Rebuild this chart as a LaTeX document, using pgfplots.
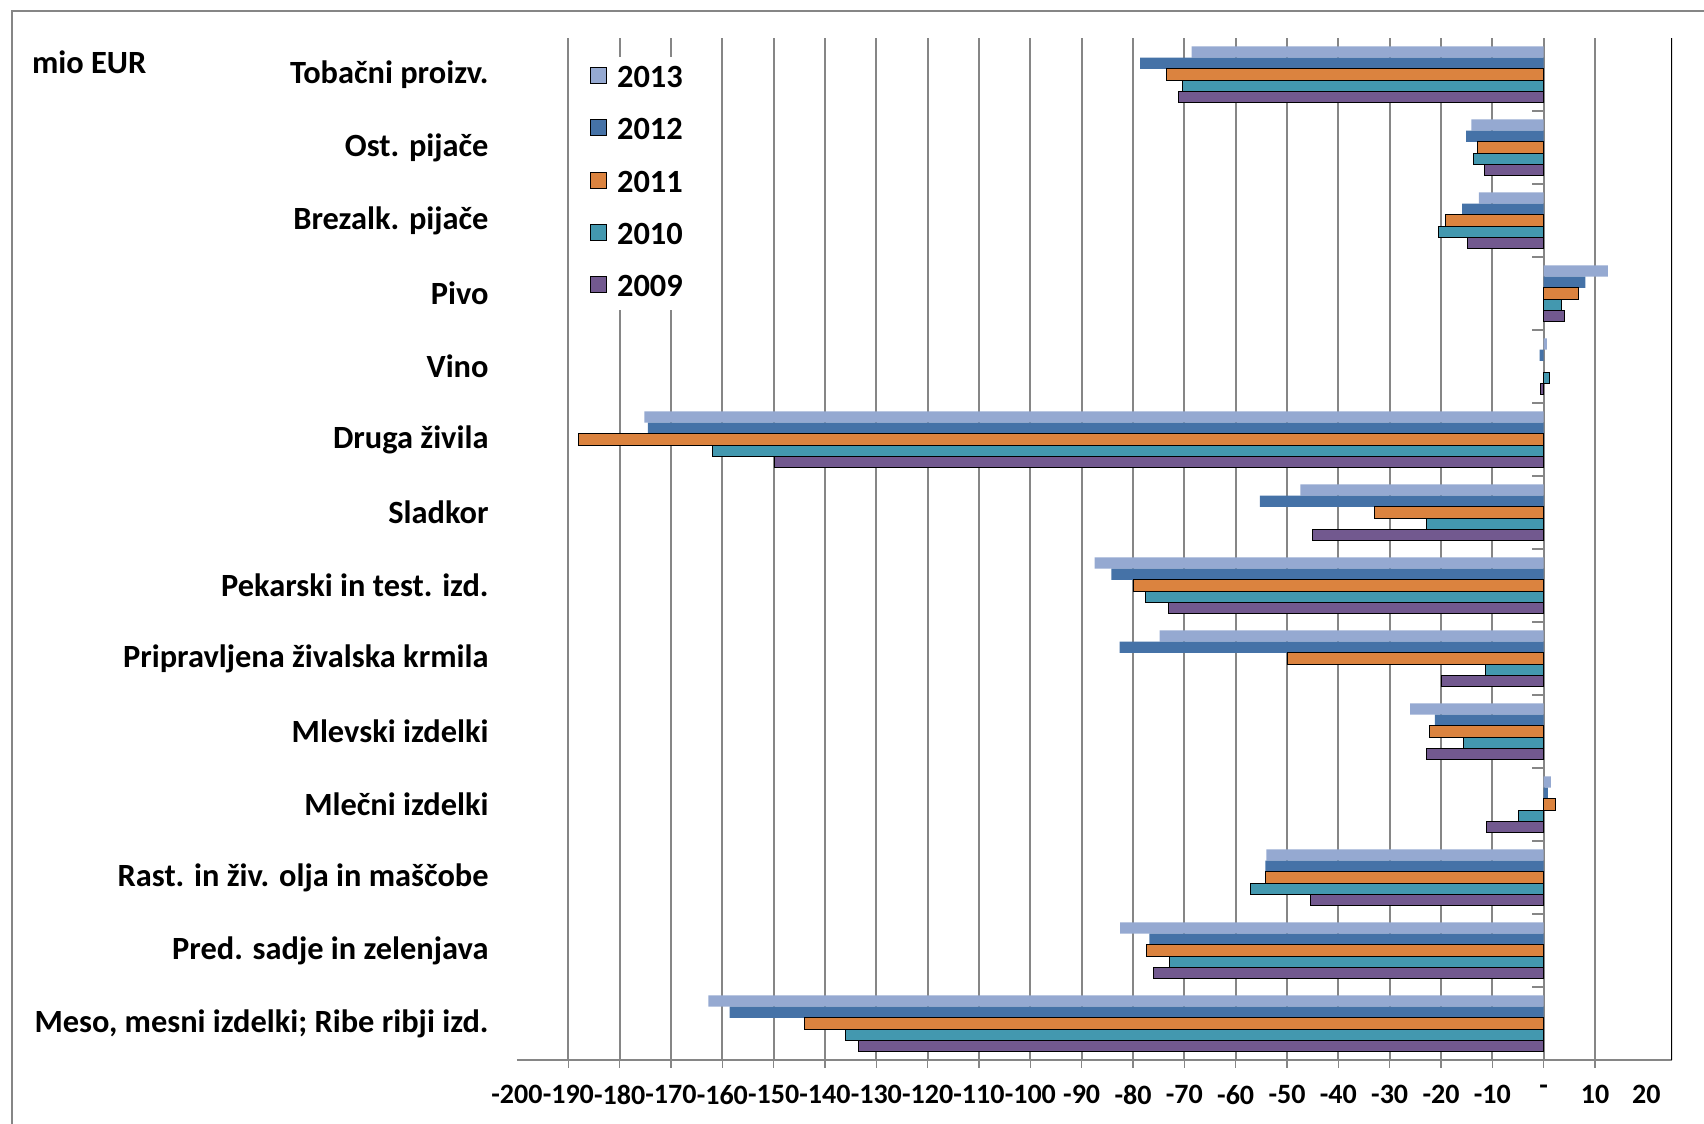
\documentclass[border=0pt]{standalone}
\usepackage{fontspec}
\setmainfont{Carlito}
\usepackage{pgfplots}
\pgfplotsset{compat=1.18}

\definecolor{c13}{RGB}{149,169,209}
\definecolor{c12}{RGB}{69,114,167}
\definecolor{c11}{RGB}{219,131,63}
\definecolor{c10}{RGB}{67,152,175}
\definecolor{c09}{RGB}{114,89,143}
\definecolor{gridgray}{RGB}{134,134,134}

\begin{document}
\begin{tikzpicture}
\useasboundingbox (0pt,0pt) rectangle (852pt,562pt);
% outer chart frame (right and bottom edges fall outside the page)
\draw[gridgray, line width=1.2pt] (6pt,-20pt) -- (6pt,556.5pt) -- (900pt,556.5pt);
\node[anchor=west, font=\fontsize{16.2}{19}\selectfont\bfseries] at (12.5pt,531pt) {mio EUR};

\begin{axis}[
    at={(258.5pt,32pt)}, anchor=south west,
    scale only axis, width=577.5pt, height=511pt,
    xbar,
    xmin=-200, xmax=25,
    ymin=-0.5, ymax=13.5,
    axis x line*=bottom, axis y line*=left,
    x axis line style={-, gridgray, line width=1.2pt},
    y axis line style={-, draw=none},
    xtick={-190,-180,...,10},
    xticklabels={-190,-180,-170,-160,-150,-140,-130,-120,-110,-100,-90,-80,-70,-60,-50,-40,-30,-20,-10,-,10},
    extra x ticks={-200,20},
    extra x tick labels={-200,20},
    extra x tick style={grid=none, major tick style={draw=none}},
    xmajorgrids=true,
    grid style={gridgray, line width=1pt},
    tick align=outside,
    major tick length=4pt,
    xtick style={gridgray, line width=0.8pt},
    xticklabel style={font=\fontsize{14}{16}\selectfont\bfseries, yshift=-5pt},
    ytick={0,...,13},
    yticklabels={{Meso, mesni izdelki; Ribe ribji izd.},
        Pred. sadje in zelenjava,
        Rast. in živ. olja in maščobe,
        Mlečni izdelki,
        Mlevski izdelki,
        Pripravljena živalska krmila,
        Pekarski in test. izd.,
        Sladkor,
        Druga živila,
        Vino,
        Pivo,
        Brezalk. pijače,
        Ost. pijače,
        Tobačni proizv.},
    ytick style={draw=none},
    yticklabel style={font=\fontsize{16.2}{19}\selectfont\bfseries, xshift=-6.7pt},
    bar width=0.154,
    legend image code/.code={\draw[#1] (0pt,-2.25pt) rectangle (8pt,5.75pt);},
    legend style={at={(axis cs:-187,13.25)}, anchor=north west, draw=none, fill=white,
        font=\fontsize{16.2}{19}\selectfont\bfseries,
        nodes={text height=11.5pt, text depth=3pt, inner sep=2pt},
        row sep=7.6pt, column sep=3pt},
    legend cell align=left,
]
\addplot[bar shift=0.308, fill=c13, draw=none] coordinates {
    (-162.7,0) (-82.5,1) (-54.0,2) (1.4,3) (-26.0,4) (-74.8,5) (-87.5,6)
    (-47.4,7) (-175.2,8) (0.6,9) (12.5,10) (-12.6,11) (-14.1,12) (-68.6,13)};
\addplot[bar shift=0.154, fill=c12, draw=none] coordinates {
    (-158.6,0) (-76.8,1) (-54.2,2) (0.8,3) (-21.2,4) (-82.6,5) (-84.2,6)
    (-55.3,7) (-174.5,8) (-0.8,9) (8.1,10) (-15.9,11) (-15.1,12) (-78.6,13)};
\addplot[bar shift=0, fill=c11, draw=black, line width=0.5pt] coordinates {
    (-143.9,0) (-77.3,1) (-54.1,2) (2.3,3) (-22.3,4) (-50.0,5) (-80.0,6)
    (-32.9,7) (-188.1,8) (6.8,10) (-19.2,11) (-12.8,12) (-73.5,13)};
\addplot[bar shift=-0.154, fill=c10, draw=black, line width=0.5pt] coordinates {
    (-136.1,0) (-72.9,1) (-57.2,2) (-4.9,3) (-15.7,4) (-11.4,5) (-77.5,6)
    (-22.9,7) (-161.9,8) (1.1,9) (3.4,10) (-20.5,11) (-13.6,12) (-70.3,13)};
\addplot[bar shift=-0.308, fill=c09, draw=black, line width=0.5pt] coordinates {
    (-133.5,0) (-76.0,1) (-45.5,2) (-11.2,3) (-22.9,4) (-20.0,5) (-73.0,6)
    (-45.1,7) (-149.9,8) (-0.7,9) (4.0,10) (-14.9,11) (-11.5,12) (-71.1,13)};
\legend{2013,2012,2011,2010,2009}

% category separators on the zero line and the right border
\pgfplotsinvokeforeach{0.5,1.5,...,12.5}{
    \draw[gridgray, line width=0.8pt] (axis cs:0,#1) -- ++(-5.75pt,0pt);
}
\draw[black, line width=0.8pt] (rel axis cs:1,0) -- (rel axis cs:1,1);
\end{axis}
\end{tikzpicture}
\end{document}
